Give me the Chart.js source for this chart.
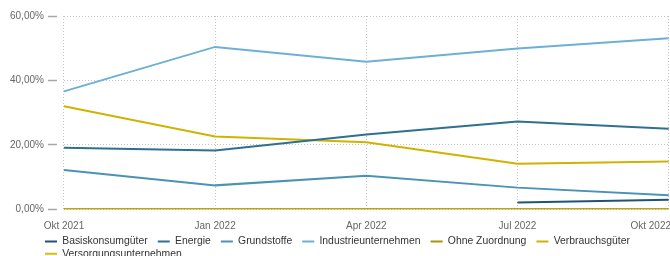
<!DOCTYPE html>
<html>
<head>
<meta charset="utf-8">
<script src="https://cdn.jsdelivr.net/npm/chart.js@4"></script>
<style>
  html, body { margin: 0; padding: 0; background: #fff; overflow: hidden; }
  #wrap { width: 700px; height: 278px; position: relative; }
</style>
</head>
<body>
<div id="wrap"><canvas id="chart"></canvas></div>
<script>
// Sector weights over time (%)
const labels = ['Okt 2021', 'Jan 2022', 'Apr 2022', 'Jul 2022', 'Okt 2022'];
const basiskonsum = [null, null, null, 2.1, 2.9];
const energie = [19.1, 18.2, 23.2, 27.2, 25.0];
const grundstoffe = [12.2, 7.4, 10.4, 6.7, 4.3];
const industrie = [36.6, 50.4, 45.8, 49.9, 53.1];
const ohneZuordnung = [0, 0, 0, 0, 0];
const verbrauch = [32.0, 22.6, 20.8, 14.1, 14.8];
const versorgung = [0, 0, 0, 0, 0];
const yTicks = [0, 20, 40, 60];

const series = [
  { label: 'Basiskonsumgüter', data: basiskonsum, color: '#1f5573' },
  { label: 'Energie', data: energie, color: '#2e7090' },
  { label: 'Grundstoffe', data: grundstoffe, color: '#4a93b6' },
  { label: 'Industrieunternehmen', data: industrie, color: '#6db0d3' },
  { label: 'Ohne Zuordnung', data: ohneZuordnung, color: '#a8940a' },
  { label: 'Verbrauchsgüter', data: verbrauch, color: '#cfb300' },
  { label: 'Versorgungsunternehmen', data: versorgung, color: '#d9bd10' }
];

const FONT = 'Liberation Sans, Arial, sans-serif';
const fmt = v => v.toFixed(2).replace('.', ',') + '%';

// move legend under the y axis labels and a bit closer to the axis,
// and pull the last x label inwards like the original
const layoutTweaks = {
  id: 'layoutTweaks',
  afterLayout(chart) {
    const lg = chart.legend;
    lg.left += 37;
    lg.right += 37;
    lg.top -= 9;
    lg.bottom -= 9;
  },
  beforeDraw(chart) {
    const items = chart.scales.x.getLabelItems();
    const last = items[items.length - 1];
    if (last && !last._moved) {
      last.options.translation[0] -= 18;
      last._moved = true;
    }
  }
};

new Chart(document.getElementById('chart'), {
  type: 'line',
  data: {
    labels: labels,
    datasets: series.map(s => ({
      label: s.label,
      data: s.data,
      borderColor: s.color,
      backgroundColor: s.color,
      borderWidth: 2,
      pointRadius: 0,
      tension: 0,
      spanGaps: false
    }))
  },
  options: {
    responsive: true,
    maintainAspectRatio: false,
    animation: false,
    layout: { padding: { top: 16, right: 2, left: 6, bottom: 0 } },
    plugins: {
      legend: {
        position: 'bottom',
        align: 'start',
        labels: {
          boxWidth: 12,
          boxHeight: 2,
          padding: 2,
          color: '#333',
          font: { family: FONT, size: 10.4 },
          generateLabels: chart => Chart.defaults.plugins.legend.labels.generateLabels(chart)
            .map(l => Object.assign(l, { text: l.text + '\u2002 ', lineWidth: 0 }))
        }
      },
      tooltip: { enabled: false }
    },
    scales: {
      x: {
        offset: false,
        grid: {
          color: '#c4c4c4',
          drawTicks: false
        },
        border: { display: false, dash: [1, 2] },
        ticks: {
          color: '#666',
          padding: 11,
          maxRotation: 0,
          autoSkip: false,
          font: { family: FONT, size: 10 }
        }
      },
      y: {
        min: 0,
        max: 60,
        afterBuildTicks: axis => { axis.ticks = yTicks.map(v => ({ value: v })); },
        grid: {
          color: '#c4c4c4',
          tickColor: '#a6a6a6',
          tickBorderDash: [9, 20],
          tickLength: 16,
          tickWidth: 1.5
        },
        border: { display: false, dash: [1, 2] },
        ticks: {
          color: '#666',
          padding: 4,
          callback: v => fmt(v),
          font: { family: FONT, size: 10 }
        }
      }
    }
  },
  plugins: [layoutTweaks]
});
</script>
</body>
</html>
